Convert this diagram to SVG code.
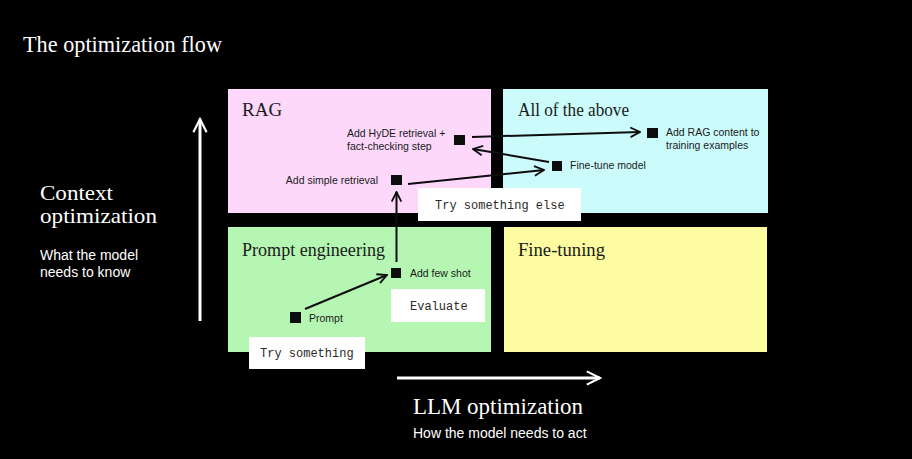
<svg xmlns="http://www.w3.org/2000/svg" width="912" height="459" viewBox="0 0 912 459">
<defs>
<style>
.serif{font-family:"Liberation Serif","DejaVu Serif",serif;}
.sans{font-family:"Liberation Sans",Arial,sans-serif;}
.mono{font-family:"Liberation Mono","DejaVu Sans Mono",monospace;font-size:12px;fill:#2a2a2a;}
.ptitle{font-size:19px;fill:#1a1a1a;}
.small{font-size:10.5px;fill:#1a1a1a;}
.sq{fill:#0d0d0d;}
.conn{stroke:#0d0d0d;stroke-width:2;fill:none;}
.axis{stroke:#ffffff;stroke-width:3;fill:none;}
.tag{fill:#ffffff;}
</style>
<marker id="ah" viewBox="0 0 10 10" refX="9" refY="5" markerWidth="6" markerHeight="6" orient="auto" markerUnits="strokeWidth">
<path d="M1,1 L9,5 L1,9" fill="none" stroke="#0d0d0d" stroke-width="1.5"/>
</marker>
<marker id="ahw" viewBox="0 0 10 10" refX="9" refY="5" markerWidth="5.5" markerHeight="5.5" orient="auto" markerUnits="strokeWidth">
<path d="M1,1 L9,5 L1,9" fill="none" stroke="#ffffff" stroke-width="1.3"/>
</marker>
</defs>
<rect x="0" y="0" width="912" height="459" fill="#000000"/>

<g id="title">
<text class="serif" x="23" y="52" font-size="24" fill="#ffffff" textLength="199" lengthAdjust="spacingAndGlyphs">The optimization flow</text>
</g>

<g id="axis-y">
<line class="axis" x1="200" y1="321" x2="200" y2="119" marker-end="url(#ahw)"/>
<text class="serif" x="40" y="200" font-size="22" fill="#ffffff" textLength="73" lengthAdjust="spacingAndGlyphs">Context</text>
<text class="serif" x="40" y="223" font-size="22" fill="#ffffff" textLength="117" lengthAdjust="spacingAndGlyphs">optimization</text>
<text class="sans" x="40" y="260" font-size="14" fill="#ffffff">What the model</text>
<text class="sans" x="40" y="277" font-size="14" fill="#ffffff">needs to know</text>
</g>

<g id="axis-x">
<line class="axis" x1="397" y1="378" x2="600" y2="378" marker-end="url(#ahw)"/>
<text class="serif" x="413" y="414" font-size="23" fill="#ffffff" textLength="170" lengthAdjust="spacingAndGlyphs">LLM optimization</text>
<text class="sans" x="413" y="438" font-size="14" fill="#ffffff">How the model needs to act</text>
</g>

<g id="panel-rag">
<rect x="228" y="89" width="263" height="124" fill="#fdd8fa"/>
<text class="serif ptitle" x="242" y="116">RAG</text>
</g>
<g id="panel-all">
<rect x="503" y="89" width="265" height="124" fill="#ccfbfb"/>
<text class="serif ptitle" x="518" y="116" textLength="111" lengthAdjust="spacingAndGlyphs">All of the above</text>
</g>
<g id="panel-prompt">
<rect x="228" y="227" width="263" height="125" fill="#b5f7b2"/>
<text class="serif ptitle" x="242" y="256" textLength="143" lengthAdjust="spacingAndGlyphs">Prompt engineering</text>
</g>
<g id="panel-finetune">
<rect x="504" y="227" width="263" height="125" fill="#fdfca0"/>
<text class="serif ptitle" x="518" y="256" textLength="87" lengthAdjust="spacingAndGlyphs">Fine-tuning</text>
</g>

<g id="connectors">
<line class="conn" x1="305" y1="309" x2="387" y2="275" marker-end="url(#ah)"/>
<line class="conn" x1="396.5" y1="262" x2="396.5" y2="192" marker-end="url(#ah)"/>
<line class="conn" x1="408" y1="184" x2="544" y2="170" marker-end="url(#ah)"/>
<line class="conn" x1="549" y1="162" x2="473" y2="149" marker-end="url(#ah)"/>
<line class="conn" x1="472" y1="137" x2="640" y2="132" marker-end="url(#ah)"/>
</g>

<g id="node-prompt">
<rect class="sq" x="290" y="312" width="11" height="11"/>
<text class="sans small" x="309" y="322">Prompt</text>
</g>
<g id="node-fewshot">
<rect class="sq" x="391" y="268" width="10" height="10"/>
<text class="sans small" x="410" y="277">Add few shot</text>
</g>
<g id="node-simple">
<rect class="sq" x="391" y="175" width="11" height="10"/>
<text class="sans small" x="378" y="184" text-anchor="end">Add simple retrieval</text>
</g>
<g id="node-hyde">
<rect class="sq" x="454" y="135" width="11" height="10"/>
<text class="sans small" x="347" y="137">Add HyDE retrieval +</text>
<text class="sans small" x="347" y="150">fact-checking step</text>
</g>
<g id="node-ftmodel">
<rect class="sq" x="552" y="161" width="10" height="10"/>
<text class="sans small" x="570" y="169">Fine-tune model</text>
</g>
<g id="node-ragcontent">
<rect class="sq" x="647" y="128" width="11" height="10"/>
<text class="sans small" x="666" y="136">Add RAG content to</text>
<text class="sans small" x="666" y="149">training examples</text>
</g>

<g id="tag-try">
<rect class="tag" x="249" y="337" width="116" height="32"/>
<text class="mono" x="260" y="357">Try something</text>
</g>
<g id="tag-evaluate">
<rect class="tag" x="391" y="289" width="94" height="33"/>
<text class="mono" x="410" y="310">Evaluate</text>
</g>
<g id="tag-else">
<rect class="tag" x="418" y="188" width="163" height="33"/>
<text class="mono" x="435" y="209">Try something else</text>
</g>
</svg>
